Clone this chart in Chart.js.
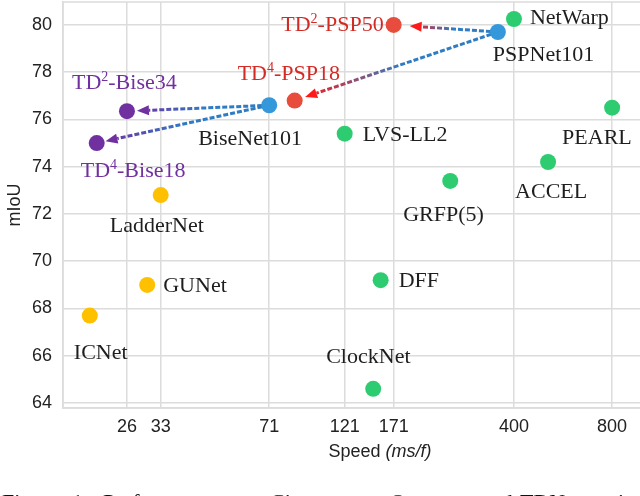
<!DOCTYPE html>
<html>
<head>
<meta charset="utf-8">
<script src="https://cdn.jsdelivr.net/npm/chart.js@4.4.1/dist/chart.umd.min.js"></script>
<style>
  html, body { margin: 0; padding: 0; background: #fff; overflow: hidden; }
  #wrap { width: 700px; height: 496px; }
</style>
</head>
<body>
<div id="wrap"><canvas id="chart" width="700" height="496"></canvas></div>
<script>
// ---- data ----
const names  = ['NetWarp', 'PSPNet101', 'PEARL', 'TD2-PSP50', 'TD4-PSP18', 'BiseNet101', 'LVS-LL2',
                'TD2-Bise34', 'TD4-Bise18', 'LadderNet', 'GUNet', 'ICNet', 'ClockNet', 'GRFP(5)', 'ACCEL', 'DFF'];
const speed  = [400, 357, 800, 171, 85, 71, 121, 26, 21, 33, 30, 20, 148, 255, 509, 156];
const miou   = [80.25, 79.7, 76.5, 80.0, 76.8, 76.6, 75.4, 76.35, 75.0, 72.8, 69.0, 67.7, 64.6, 73.4, 74.2, 69.2];
const family = ['other', 'base', 'other', 'psp', 'psp', 'base', 'other',
                'bise', 'bise', 'fast', 'fast', 'fast', 'other', 'other', 'other', 'other'];
const xTicks = [26, 33, 71, 121, 171, 400, 800];
const yTicks = [64, 66, 68, 70, 72, 74, 76, 78, 80];
// teacher -> student arrows
const arrowFrom = ['PSPNet101', 'PSPNet101', 'BiseNet101', 'BiseNet101'];
const arrowTo   = ['TD2-PSP50', 'TD4-PSP18', 'TD2-Bise34', 'TD4-Bise18'];

// ---- styles ----
const DOT = { other: '#2ecc71', base: '#3498db', psp: '#e74c3c', bise: '#7030a0', fast: '#ffc000' };
const TXT = { other: '#1e1e1e', base: '#1e1e1e', psp: '#d42a24', bise: '#7030a0', fast: '#1e1e1e' };
const HEAD = { psp: '#ff1a1a', bise: '#7030a0' };
const GRID = '#dcdcdc';
const SERIF = '"Liberation Serif", "Times New Roman", serif';
const SANS = '"Liberation Sans", Arial, sans-serif';
// label offset from dot (px), anchor side
const labelPos = {
  'NetWarp':    [16, -2, 'left'],  'PSPNet101': [-5, 22, 'left'],  'PEARL':     [-50, 29, 'left'],
  'TD2-PSP50':  [-10, -1, 'right'], 'TD4-PSP18': [-57, -28, 'left'], 'BiseNet101': [-71, 33, 'left'],
  'LVS-LL2':    [18, 0, 'left'],   'TD2-Bise34': [-55, -29, 'left'], 'TD4-Bise18': [-16, 27, 'left'],
  'LadderNet':  [-51, 30, 'left'], 'GUNet':     [16, 0, 'left'],   'ICNet':     [-16, 36, 'left'],
  'ClockNet':   [-47, -33, 'left'], 'GRFP(5)':  [-47, 33, 'left'], 'ACCEL':     [-33, 29, 'left'],
  'DFF':        [18, 0, 'left']
};
const arrowGap = [16, 11, 10, 9];

function labelParts(name) {
  const m = name.match(/^TD(\d)(.*)$/);
  if (!m) return [[name, 22, 0]];
  return [['TD', 22, 0], [m[1], 14, -8], [m[2], 22, 0]];
}

const markup = {
  id: 'markup',
  beforeDatasetsDraw(chart) {
    const { ctx, chartArea: a, scales: { x, y } } = chart;
    ctx.save();
    ctx.strokeStyle = GRID; ctx.lineWidth = 1.5;
    ctx.strokeRect(a.left, a.top, a.right - a.left, a.bottom - a.top);

    arrowFrom.forEach((from, k) => {
      const i = names.indexOf(from), j = names.indexOf(arrowTo[k]);
      const x0 = x.getPixelForValue(speed[i]), y0 = y.getPixelForValue(miou[i]);
      const x1 = x.getPixelForValue(speed[j]), y1 = y.getPixelForValue(miou[j]);
      const ang = Math.atan2(y1 - y0, x1 - x0), c = Math.cos(ang), s = Math.sin(ang);
      const tx = x1 - c * arrowGap[k], ty = y1 - s * arrowGap[k];
      const bx = tx - c * 12, by = ty - s * 12;
      const end = HEAD[family[j]];
      const g = ctx.createLinearGradient(x0, y0, tx, ty);
      g.addColorStop(0, '#2f7cc4'); g.addColorStop(0.5, '#2f7cc4'); g.addColorStop(1, end);
      ctx.strokeStyle = g; ctx.lineWidth = 3; ctx.setLineDash([5, 2]);
      ctx.beginPath(); ctx.moveTo(x0, y0); ctx.lineTo(bx, by); ctx.stroke();
      ctx.setLineDash([]);
      ctx.fillStyle = end;
      ctx.beginPath(); ctx.moveTo(tx, ty);
      ctx.lineTo(bx + s * 5, by - c * 5); ctx.lineTo(bx - s * 5, by + c * 5);
      ctx.closePath(); ctx.fill();
    });
    ctx.restore();
  },
  afterDatasetsDraw(chart) {
    const { ctx, scales: { x, y } } = chart;
    ctx.save();
    ctx.textBaseline = 'alphabetic';
    names.forEach((n, i) => {
      const [dx, dy, align] = labelPos[n];
      const parts = labelParts(n);
      let w = 0;
      parts.forEach(p => { ctx.font = p[1] + 'px ' + SERIF; w += ctx.measureText(p[0]).width; });
      let cx = x.getPixelForValue(speed[i]) + dx - (align === 'right' ? w : 0);
      const base = y.getPixelForValue(miou[i]) + dy + 7;
      ctx.fillStyle = TXT[family[i]];
      parts.forEach(p => {
        ctx.font = p[1] + 'px ' + SERIF;
        ctx.fillText(p[0], cx, base + p[2]);
        cx += ctx.measureText(p[0]).width;
      });
    });
    ctx.restore();
  },
  afterDraw(chart) {
    const { ctx, chartArea: a } = chart;
    ctx.save();
    // x axis title with italic unit
    ctx.fillStyle = '#222'; ctx.textBaseline = 'middle';
    ctx.font = '18px ' + SANS;
    const t1 = 'Speed ', w1 = ctx.measureText(t1).width;
    ctx.font = 'italic 18px ' + SANS;
    const t2 = '(ms/f)', w2 = ctx.measureText(t2).width;
    let sx = (a.left + a.right) / 2 - (w1 + w2) / 2;
    ctx.font = '18px ' + SANS; ctx.fillText(t1, sx, 452);
    ctx.font = 'italic 18px ' + SANS; ctx.fillText(t2, sx + w1, 452);
    // caption, cut by the bottom edge
    ctx.font = '22px ' + SERIF; ctx.fillStyle = '#111'; ctx.textBaseline = 'alphabetic';
    [['Figure', 2], ['1:', 72], ['Performance', 103], ['on', 240], ['Cityscapes.', 270],
     ['Our', 390], ['proposed', 432], ['TDNet', 520], ['variants', 590]]
      .forEach(([w, px]) => ctx.fillText(w, px, 509));
    ctx.restore();
  }
};

new Chart(document.getElementById('chart'), {
  type: 'scatter',
  data: {
    datasets: [{
      data: names.map((n, i) => ({ x: speed[i], y: miou[i] })),
      backgroundColor: family.map(f => DOT[f]),
      borderWidth: 0,
      pointRadius: 8,
      pointHoverRadius: 8
    }]
  },
  options: {
    responsive: false,
    animation: false,
    layout: { autoPadding: false, padding: { top: 2, right: 3, left: 0, bottom: 0 } },
    plugins: { legend: { display: false }, tooltip: { enabled: false } },
    scales: {
      x: {
        type: 'logarithmic', min: 16.55, max: 1457,
        afterBuildTicks: s => { s.ticks = xTicks.map(v => ({ value: v })); },
        afterFit: s => { s.height = 88; s.paddingLeft = 0; s.paddingRight = 0; },
        grid: { color: GRID, lineWidth: 1.5, drawTicks: false },
        border: { color: GRID, width: 1.5 },
        ticks: { autoSkip: false, maxRotation: 0, padding: 8, color: '#222',
                 font: { family: SANS, size: 18 }, callback: v => String(v) }
      },
      y: {
        min: 63.79, max: 80.97,
        afterBuildTicks: s => { s.ticks = yTicks.map(v => ({ value: v })); },
        afterFit: s => { s.width = 63; s.paddingTop = 0; s.paddingBottom = 0; },
        grid: { color: GRID, lineWidth: 1.5, drawTicks: false },
        border: { color: GRID, width: 1.5 },
        ticks: { padding: 11, color: '#222', font: { family: SANS, size: 18 } },
        title: { display: true, text: 'mIoU', color: '#222', padding: { top: 4, bottom: 0 },
                 font: { family: SANS, size: 18 } }
      }
    }
  },
  plugins: [markup]
});
</script>
</body>
</html>
